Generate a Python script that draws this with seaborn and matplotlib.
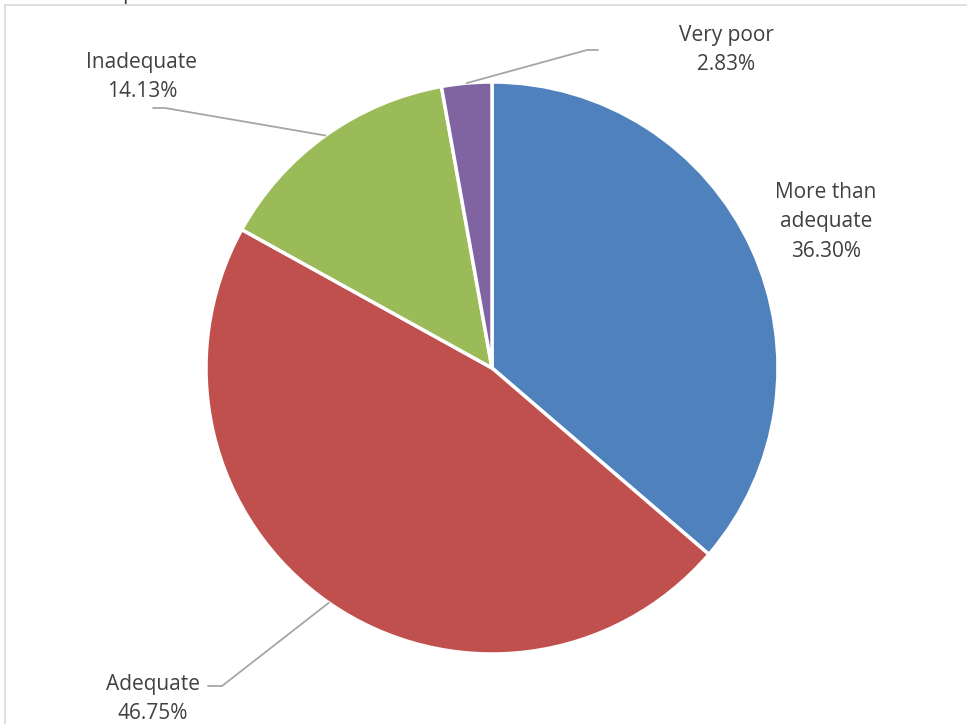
import numpy as np
import matplotlib
matplotlib.use("Agg")
import matplotlib.pyplot as plt
import seaborn as sns

# share of responses per rating, clockwise from 12 o'clock
categories = ["More than\nadequate", "Adequate", "Inadequate", "Very poor"]
shares = [36.30, 46.75, 14.13, 2.83]
slice_colors = ["#4F81BD", "#C0504D", "#9BBB59", "#8064A2"]

sns.set_theme(style="white")
plt.rcParams['font.family'] = ['Open Sans', 'DejaVu Sans']

W, H = 967, 724
fig = plt.figure(figsize=(W / 100, H / 100), dpi=100)
ax = fig.add_axes([0, 0, 1, 1])

cx, cy, r = 492, H - 368, 286
wedges, _ = ax.pie(shares, colors=sns.color_palette(slice_colors), startangle=90,
                   counterclock=False, center=(cx, cy), radius=r, frame=True,
                   wedgeprops=dict(edgecolor="white", linewidth=2.5))

ax.set_xlim(0, W)
ax.set_ylim(0, H)
ax.set_aspect("equal")
ax.axis("off")

# chart frame (only top and left edges visible in crop)
ax.plot([5, W], [H - 5, H - 5], color="#D9D9D9", lw=1.2, clip_on=False)
ax.plot([5, 5], [H - 5, 0], color="#D9D9D9", lw=1.2, clip_on=False)

# clipped title remnant at the very top (cut off in the source image too)
ax.text(130, H + 1.5, "of responses", ha="center", va="baseline",
        fontsize=15, color="#404040")

txt = dict(fontsize=15, color="#404040", ha="center", va="center", linespacing=1.55)
label_pos = [(826, 222), (153, 699), (142, 77), (726, 50)]
# leader line elbows (None = no leader line)
elbows = [None, [(222, 686), (208, 686)], [(165, 108), (153, 108)], [(587, 50), (598, 50)]]

for w, name, val, (lx, ly), elb in zip(wedges, categories, shares, label_pos, elbows):
    ax.text(lx, H - ly, f"{name}\n{val:.2f}%", **txt)
    if elb is None:
        continue
    mid = np.deg2rad((w.theta1 + w.theta2) / 2)
    px, py = cx + r * np.cos(mid), cy + r * np.sin(mid)
    xs = [px] + [e[0] for e in elb]
    ys = [py] + [H - e[1] for e in elb]
    ax.plot(xs, ys, color="#A6A6A6", lw=1.3)

fig.savefig("out.png", dpi=100)
